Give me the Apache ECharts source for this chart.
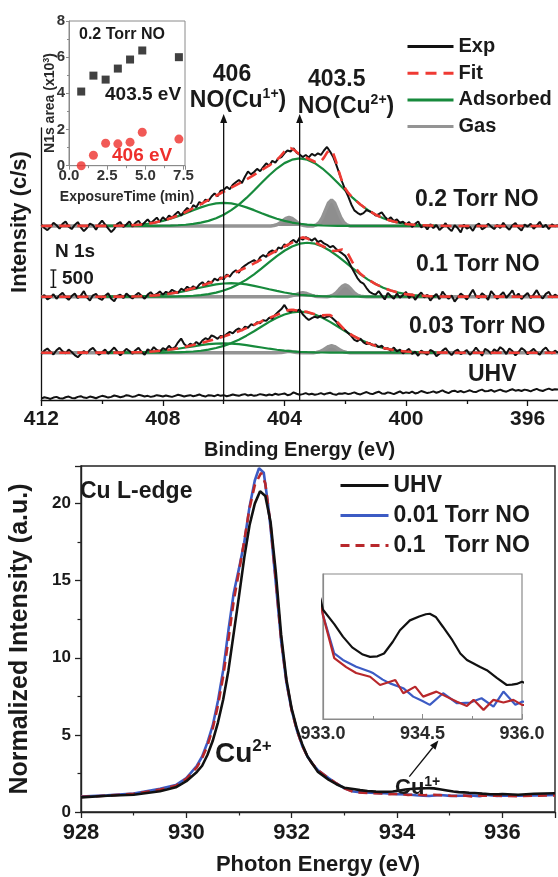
<!DOCTYPE html>
<html>
<head>
<meta charset="utf-8">
<title>N 1s XPS / Cu L-edge</title>
<script src="https://cdn.jsdelivr.net/npm/echarts@6/dist/echarts.min.js"></script>
<style>
html,body{margin:0;padding:0;background:#fff;}
#main{width:558px;height:877px;}
</style>
</head>
<body>
<div id="main"></div>
<script>
/*
* N 1s 谱 + Cu L 边 吸收谱
* */
// ---------- 上图 N 1s (c/s, 相对各自基线) ----------
var expStart = 412, expStep = 0.1, expCount = 171;   // Exp 每 0.1 eV 一个点, 412 -> 395
var compStart = 410, compStep = 0.25, compCount = 45; // 拟合分量 410 -> 399

var exp02 = [40,-60,-120,-30,90,20,-80,60,130,-20,
    -90,30,110,-40,-150,-60,70,20,-110,50,
    150,40,-70,-180,-90,60,110,-30,40,130,
    -20,90,150,20,100,190,80,160,240,120,
    250,170,300,240,330,410,300,420,520,430,
    600,540,690,640,760,720,850,940,860,1020,
    1040,1130,1060,1190,1260,1330,1240,1420,1570,1490,
    1560,1650,1580,1700,1810,1740,1880,1830,1950,1990,
    2100,2180,2150,2245,2120,2060,1990,2050,1980,2080,
    2030,2100,2050,2180,2283,2150,2000,1780,1530,1270,
    1040,850,620,450,380,330,370,460,420,380,
    300,340,390,270,180,250,140,190,90,120,
    40,110,-30,60,130,-40,20,-100,50,-60,
    30,-120,-40,80,-70,-150,20,-60,-190,40,
    -80,-30,-140,10,70,-100,-40,60,-20,-90,
    30,-60,90,-30,-110,20,80,-50,-130,40,
    -20,60,-80,10,120,-40,30,-90,50,-10,20];
var exp01 = [-30,50,-80,-20,70,-60,40,110,-10,-90,
    20,90,-40,30,160,-20,-110,40,80,-50,
    -90,30,100,-60,-130,20,60,-40,90,10,
    -50,40,110,20,-60,60,130,30,80,150,
    60,140,100,200,150,110,230,180,290,220,
    300,240,350,420,330,440,400,520,470,560,
    500,640,580,700,760,690,830,900,960,1010,
    1060,990,1140,1200,1150,1290,1340,1280,1420,1390,
    1510,1470,1580,1640,1560,1700,1650,1720,1680,1620,
    1690,1580,1620,1540,1500,1430,1470,1380,1310,1250,
    1180,1040,860,700,540,430,380,250,140,90,
    60,160,40,-80,110,20,-60,90,-30,50,
    140,-40,70,-90,30,120,-20,60,-110,0,
    80,-70,150,30,-60,40,-140,-30,90,20,
    -80,60,200,20,-40,100,30,-90,160,50,
    -60,40,130,-30,70,180,-10,90,-70,30,
    110,-40,60,190,20,-50,80,140,-20,60,10];
var exp003 = [-40,60,120,30,-50,70,140,40,-20,90,
    20,-70,-130,-40,50,-20,80,140,30,-60,
    10,90,-30,60,150,40,-80,20,110,50,
    -30,70,140,20,-60,100,40,160,80,30,
    130,90,200,110,160,300,410,250,180,260,
    220,310,240,350,420,380,500,460,400,480,
    470,540,600,560,650,700,640,750,720,820,
    790,880,850,940,920,1010,980,1100,1180,1260,
    1380,1230,1180,1240,1200,1250,1110,1020,945,1000,
    1040,1010,1070,1000,1040,1060,980,900,780,720,
    650,560,480,370,330,410,300,250,280,210,
    240,160,200,110,130,60,150,40,90,-20,
    50,110,-40,30,-90,60,0,-60,80,30,
    -100,-30,60,130,20,-70,40,90,-40,10,
    80,-60,20,150,40,-90,110,60,-30,100,
    30,160,90,-40,120,50,-80,20,130,70,
    -50,40,110,10,-60,80,150,30,-20,60,0];
var expUHV = [40,80,60,30,70,90,50,40,80,100,
    60,50,90,110,70,60,100,80,50,90,
    120,100,70,90,130,110,80,100,140,120,
    90,110,150,130,100,120,90,110,140,120,
    100,130,110,90,120,150,130,100,120,140,
    110,130,160,120,100,140,130,110,150,120,
    140,110,130,160,140,120,150,170,130,150,
    120,140,170,150,130,160,140,180,150,170,
    190,140,160,220,180,150,170,200,160,180,
    150,170,200,160,190,210,170,150,190,180,
    200,170,190,220,180,160,200,230,190,170,
    210,240,190,180,220,200,170,210,250,190,
    220,200,240,190,210,260,230,200,220,250,
    210,240,280,230,200,250,270,230,260,220,
    250,280,240,230,270,300,250,260,290,240,
    270,300,260,240,280,310,270,290,260,300,
    280,250,290,320,280,260,300,330,290,310,300];

// 吸附分量 (绿色), 403.5 eV 与 406 eV
var adsA02 = [0,0,0,0,0,1,2,3,6,11,20,35,58,94,147,222,324,456,618,809,1022,1246,1464,1659,1815,1915,1950,1915,1815,1659,1464,1246,1022,809,618,456,324,222,147,94,58,35,20,11,6];
var adsB02 = [2,3,6,12,22,38,63,98,146,209,284,368,456,537,605,650,665,650,605,537,456,368,284,209,146,98,63,38,22,12,6,3,2,0,0,0,0,0,0,0,0,0,0,0,0];
var adsA01 = [0,0,0,0,0,0,0,1,2,5,9,16,28,46,75,118,178,259,365,495,647,817,997,1172,1328,1452,1532,1560,1532,1452,1328,1172,997,817,647,495,365,259,178,118,75,46,28,16,9];
var adsB01 = [0,1,2,4,7,13,22,37,57,86,122,167,216,267,315,355,381,390,381,355,315,267,216,167,122,86,57,37,22,13,7,4,2,1,0,0,0,0,0,0,0,0,0,0,0];
var adsA003 = [0,0,0,0,0,0,1,2,4,7,12,21,35,57,90,135,197,277,376,492,621,757,890,1008,1103,1164,1185,1164,1103,1008,890,757,621,492,376,277,197,135,90,57,35,21,12,7,4];
var adsB003 = [1,1,3,5,9,15,25,40,59,85,115,150,185,218,246,264,270,264,246,218,185,150,115,85,59,40,25,15,9,5,3,1,1,0,0,0,0,0,0,0,0,0,0,0,0];

// 拟合 (红虚线) [eV, c/s]
var fit02 = [[412,0],[410,2],[409.75,3],[409.5,6],[409.25,12],[409,22],[408.75,39],[408.5,65],[408.25,101],[408,152],[407.75,220],[407.5,304],[407.25,403],[407,514],[406.75,631],[406.5,752],[406.25,872],[406,989],[405.75,1106],[405.5,1223],[405.25,1346],[405,1478],[404.75,1614],[404.5,1748],[404.25,1902],[404.1,2044],[404,2150],[403.9,2230],[403.8,2248],[403.7,2207],[403.6,2134],[403.5,2067],[403.4,2016],[403.25,1956],[403,1854],[402.9,1836],[402.8,1869],[402.7,1976],[402.6,2120],[402.5,2197],[402.4,2105],[402.3,1856],[402.2,1544],[402.1,1273],[402,1084],[401.9,952],[401.75,809],[401.5,618],[401.25,456],[401,324],[400.75,222],[400.5,147],[400.25,94],[400,58],[399.75,35],[399.5,20],[399.25,11],[399,6],[398.5,0],[395,0]];
var fit01 = [[412,0],[410,0],[409.75,1],[409.5,2],[409.25,4],[409,7],[408.75,13],[408.5,22],[408.25,38],[408,59],[407.75,91],[407.5,131],[407.25,183],[407,244],[406.75,313],[406.5,390],[406.25,473],[406,559],[405.75,649],[405.5,746],[405.25,850],[405,962],[404.75,1084],[404.5,1213],[404.25,1339],[404,1450],[403.75,1563],[403.6,1645],[403.5,1690],[403.4,1714],[403.25,1684],[403.1,1615],[403,1570],[402.75,1465],[402.5,1350],[402.4,1319],[402.25,1332],[402.2,1343],[402.1,1366],[402,1339],[401.9,1224],[401.8,1059],[401.75,974],[401.6,760],[401.5,662],[401.25,495],[401,365],[400.75,259],[400.5,178],[400.25,118],[400,75],[399.75,46],[399.5,28],[399.25,16],[399,9],[398.5,2],[395,0]];
var fit003 = [[412,0],[410,1],[409.75,1],[409.5,3],[409.25,5],[409,9],[408.75,15],[408.5,26],[408.25,42],[408,63],[407.75,92],[407.5,127],[407.25,171],[407,220],[406.75,275],[406.5,336],[406.25,399],[406,467],[405.75,541],[405.5,622],[405.25,710],[405,806],[404.75,907],[404.5,1005],[404.25,1093],[404,1192],[403.85,1232],[403.75,1239],[403.5,1210],[403.25,1179],[403,1112],[402.75,1078],[402.6,1091],[402.5,1088],[402.4,1033],[402.25,879],[402,637],[401.75,492],[401.5,376],[401.25,277],[401,197],[400.75,135],[400.5,90],[400.25,57],[400,35],[399.75,21],[399.5,12],[399.25,7],[399,4],[398.5,0],[395,0]];

// 气相 NO (灰色)
var gas02 = [[412,0],[404.45,0],[404.35,11],[404.25,34],[404.15,81],[404.05,152],[403.95,220],[403.85,250],[403.75,220],[403.65,152],[403.55,81],[403.45,34],[403.35,11],[403.25,0],[403.05,0],[402.95,33],[402.85,101],[402.75,244],[402.65,455],[402.55,662],[402.45,750],[402.35,662],[402.25,455],[402.15,244],[402.05,101],[401.95,33],[401.85,0],[395,0]];
var gas01 = [[412,0],[403.9,0],[403.8,16],[403.7,37],[403.6,70],[403.5,101],[403.4,115],[403.3,101],[403.2,70],[403.1,37],[403,16],[402.9,5],[402.6,0],[402.5,15],[402.4,46],[402.3,111],[402.2,206],[402.1,299],[402,340],[401.9,299],[401.8,206],[401.7,111],[401.6,46],[401.5,15],[401.4,4],[401.3,0],[395,0]];
var gas003 = [[412,0],[404.3,0],[404.1,8],[403.95,30],[403.85,40],[403.75,30],[403.6,8],[403.4,0],[403.05,0],[402.95,9],[402.85,27],[402.75,65],[402.65,121],[402.55,176],[402.45,200],[402.35,176],[402.25,121],[402.15,65],[402.05,27],[401.95,9],[401.85,0],[395,0]];

// 各谱的基线偏移 (c/s)
var baseOffsets = [5030, 2985, 1367, 0];
var traceNames = ['0.2 Torr NO', '0.1 Torr NO', '0.03 Torr NO', 'UHV'];
var topTicks = [412, 408, 404, 400, 396];
var topMinorTicks = [410, 406, 402, 398];
var peakEnergies = [406, 403.5];
var scaleBarCps = 500;

// 插图: N1s 面积 vs 时间
var exposureTime = [0.8, 1.6, 2.4, 3.2, 4.0, 4.8, 7.2];
var area4035 = [4.1, 4.98, 4.76, 5.37, 5.87, 6.37, 6.0];
var area406 = [0, 0.58, 1.24, 1.21, 1.30, 1.85, 1.47];

// ---------- 下图 Cu L 边 ----------
var uhvE = [928.0,928.5,929.0,929.5,929.8,930.0,930.2,930.3,930.4,930.5,930.6,930.7,930.8,930.9,931.0,931.1,931.2,931.3,931.4,931.5,931.6,931.7,931.8,931.9,932.0,932.1,932.2,932.3,932.4,932.5,932.7,932.85,933.0,933.17,933.3,933.44,933.6,933.71,933.82,933.92,934.05,934.16,934.31,934.45,934.55,934.61,934.7,934.81,934.95,935.07,935.17,935.27,935.37,935.47,935.62,935.77,935.85,935.92,936.0,936.3,936.6,937.0];
var uhvI = [0.95,1.05,1.12,1.35,1.6,2.0,2.6,3.0,3.7,4.6,5.8,7.3,9.2,11.6,14.0,16.5,18.6,20.0,20.8,20.5,18.8,15.5,11.5,8.6,6.7,5.4,4.4,3.6,3.1,2.6,2.1,1.8,1.57,1.49,1.42,1.36,1.32,1.307,1.31,1.326,1.39,1.456,1.511,1.533,1.545,1.548,1.53,1.474,1.40,1.326,1.29,1.27,1.25,1.233,1.19,1.15,1.152,1.156,1.168,1.12,1.18,1.22];
var no001E = [928.0,928.5,929.0,929.5,929.8,930.0,930.2,930.3,930.4,930.5,930.6,930.7,930.8,930.9,931.0,931.1,931.2,931.3,931.38,931.47,931.55,931.6,931.7,931.8,931.9,932.0,932.1,932.2,932.3,932.4,932.5,932.7,932.85,933.0,933.17,933.3,933.5,933.71,933.76,933.9,934.01,934.21,934.36,934.5,934.61,934.81,935.02,935.22,935.39,935.57,935.72,935.9,936.0,936.3,936.6,937.0];
var no001I = [1.0,1.08,1.2,1.5,1.75,2.2,3.0,3.6,4.5,5.6,7.2,9.2,11.8,14.2,15.8,17.5,19.8,21.5,22.3,22.0,20.0,18.4,14.8,11.1,8.4,6.6,5.3,4.3,3.6,3.1,2.7,2.2,1.85,1.54,1.326,1.29,1.252,1.224,1.215,1.18,1.159,1.132,1.085,1.06,1.039,1.104,1.048,1.052,1.076,1.029,1.113,1.039,1.057,1.05,1.08,1.1];
var no01E = [928.0,928.5,929.0,929.5,929.8,930.0,930.2,930.3,930.4,930.5,930.6,930.7,930.8,930.9,931.0,931.1,931.2,931.3,931.42,931.5,931.6,931.7,931.8,931.9,932.0,932.1,932.2,932.3,932.4,932.5,932.7,932.85,933.0,933.17,933.35,933.5,933.71,933.86,934.09,934.21,934.39,934.51,934.71,934.86,935.02,935.17,935.27,935.42,935.57,935.72,935.87,936.0,936.3,936.6,937.0];
var no01I = [0.98,1.06,1.18,1.45,1.7,2.15,2.9,3.5,4.3,5.4,6.9,8.8,11.2,13.7,15.6,17.6,19.7,21.2,22.0,21.3,18.6,15.0,11.2,8.5,6.6,5.3,4.3,3.6,3.1,2.7,2.2,1.85,1.539,1.30,1.25,1.217,1.196,1.15,1.178,1.104,1.141,1.085,1.113,1.085,1.057,1.033,1.067,1.011,1.067,1.052,1.067,1.039,1.03,1.06,1.08];
var cuNames = ['UHV', '0.01 Torr NO', '0.1   Torr NO'];

var FONT = '"Liberation Sans", Arial, Helvetica, sans-serif';
var C_EXP = '#111111', C_FIT = '#ef3a33', C_ADS = '#178a3c', C_GAS = '#949494';
var C_UHV = '#111111', C_BLUE = '#3c5bc4', C_RED = '#b8272b';

function makeGrid(start, step, n) {
    var a = [];
    for (var i = 0; i < n; i++) a.push(+(start - i * step).toFixed(2));
    return a;
}
function zip(xs, ys, off) {
    return xs.map(function (x, i) { return [x, ys[i] + (off || 0)]; });
}
function shift(pairs, off) {
    return pairs.map(function (p) { return [p[0], p[1] + off]; });
}
function lineSeries(name, data, color, width, extra) {
    var s = {
        name: name, type: 'line', data: data, symbol: 'none', smooth: false,
        xAxisIndex: 0, yAxisIndex: 0,
        lineStyle: { color: color, width: width },
        itemStyle: { color: color }
    };
    for (var k in extra) s[k] = extra[k];
    return s;
}

var expEnergy = makeGrid(expStart, expStep, expCount);
var compEnergy = makeGrid(compStart, compStep, compCount);

var traces = [
    { exp: exp02, fit: fit02, a: adsA02, b: adsB02, gas: gas02 },
    { exp: exp01, fit: fit01, a: adsA01, b: adsB01, gas: gas01 },
    { exp: exp003, fit: fit003, a: adsA003, b: adsB003, gas: gas003 }
];

var series = [];
// 上图
traces.forEach(function (t, i) {
    var off = baseOffsets[i];
    series.push(lineSeries('Gas', shift(t.gas, off), C_GAS, 3.5, {
        areaStyle: { color: '#8e8e8e', opacity: 1, origin: off }, z: 1
    }));
});
traces.forEach(function (t, i) {
    var off = baseOffsets[i];
    series.push(lineSeries('Adsorbed', zip(compEnergy, t.a, off), C_ADS, 2.2, { z: 2 }));
    series.push(lineSeries('Adsorbed', zip(compEnergy, t.b, off), C_ADS, 2.2, { z: 2 }));
});
traces.forEach(function (t, i) {
    series.push(lineSeries('Exp', zip(expEnergy, t.exp, baseOffsets[i]), C_EXP, 2, { z: 3 }));
});
series.push(lineSeries('Exp', zip(expEnergy, expUHV, baseOffsets[3]), C_EXP, 2, { z: 3 }));
traces.forEach(function (t, i) {
    var s = lineSeries('Fit', shift(t.fit, baseOffsets[i]), C_FIT, 2.6, { z: 4 });
    s.lineStyle.type = [11, 7];
    series.push(s);
});

// 插图 (上)
series.push({
    name: '403.5 eV', type: 'scatter', xAxisIndex: 2, yAxisIndex: 1,
    data: zip(exposureTime, area4035), symbol: 'rect', symbolSize: 8,
    itemStyle: { color: '#111' }
});
series.push({
    name: '406 eV', type: 'scatter', xAxisIndex: 2, yAxisIndex: 1,
    data: zip(exposureTime, area406), symbol: 'circle', symbolSize: 9,
    itemStyle: { color: '#ee2f2c' }
});

// 下图
var cuData = [zip(no001E, no001I), zip(no01E, no01I), zip(uhvE, uhvI)];
var cuSeriesNames = [cuNames[1], cuNames[2], cuNames[0]];
var cuColors = [C_BLUE, C_RED, C_UHV];
cuData.forEach(function (d, i) {
    var s = lineSeries(cuSeriesNames[i], d, cuColors[i], 2.6, { xAxisIndex: 3, yAxisIndex: 2, z: 2 + i });
    if (i === 1) s.lineStyle.type = [9, 6];
    series.push(s);
});
// 插图 (下), 同一组数据放大
cuData.forEach(function (d, i) {
    series.push(lineSeries(cuSeriesNames[i], d, cuColors[i], 2.2, { xAxisIndex: 4, yAxisIndex: 3, z: 2 + i }));
});

var boldText = function (size, color) {
    return { fontFamily: FONT, fontWeight: 'bold', fontSize: size, color: color || '#1a1a1a' };
};

var option = {
    animation: false,
    backgroundColor: '#ffffff',
    grid: [
        { left: 41.3, right: -2, top: 128, bottom: 477 },
        { left: 69, top: 21, width: 116, height: 144.7, show: true, borderColor: '#8a8a8a', borderWidth: 1 },
        { left: 62, right: 3, top: 466, bottom: 52, show: true, borderColor: '#222', borderWidth: 1.4 },
        { left: 323, top: 574, width: 199, height: 145, show: true, borderColor: '#8a8a8a', borderWidth: 1.2 }
    ],
    legend: [
        {
            data: ['Exp', 'Fit', 'Adsorbed', 'Gas'], orient: 'vertical', left: 406, top: 36.5, padding: 0,
            itemWidth: 46, itemHeight: 14, itemGap: 6.7, selectedMode: false,
            itemStyle: { opacity: 0 }, lineStyle: { width: 3 },
            textStyle: { fontFamily: FONT, fontWeight: 'bold', fontSize: 20, lineHeight: 20, color: '#1a1a1a' }
        },
        {
            data: cuNames, orient: 'vertical', left: 339, top: 474, padding: 0,
            itemWidth: 48, itemHeight: 14, itemGap: 7, selectedMode: false,
            itemStyle: { opacity: 0 }, lineStyle: { width: 3 },
            textStyle: { fontFamily: FONT, fontWeight: 'bold', fontSize: 23, lineHeight: 22, color: '#1a1a1a' }
        }
    ],
    xAxis: [
        {
            gridIndex: 0, type: 'value', min: 395, max: 412, inverse: true,
            name: 'Binding Energy (eV)', nameLocation: 'middle', nameGap: 40,
            nameTextStyle: boldText(20),
            axisLine: { lineStyle: { color: '#111', width: 1.3 } },
            axisTick: { customValues: topTicks, length: 6, lineStyle: { color: '#111', width: 1.3 } },
            axisLabel: { customValues: topTicks, margin: 9, fontFamily: FONT, fontWeight: 'bold', fontSize: 21, color: '#1a1a1a' },
            splitLine: { show: false }
        },
        {
            gridIndex: 0, type: 'value', min: 395, max: 412, inverse: true, position: 'bottom',
            axisLine: { show: false },
            axisTick: { customValues: topMinorTicks, length: 4, lineStyle: { color: '#111', width: 1.3 } },
            axisLabel: { show: false }, splitLine: { show: false }
        },
        {
            gridIndex: 1, type: 'value', min: 0, max: 7.6, interval: 2.5,
            name: 'ExposureTime (min)', nameLocation: 'middle', nameGap: 24,
            nameTextStyle: boldText(14, '#2a2a2a'),
            axisLine: { lineStyle: { color: '#8a8a8a', width: 1 } },
            axisTick: { length: 4, lineStyle: { color: '#8a8a8a' } },
            minorTick: { show: true, splitNumber: 2, length: 2.5, lineStyle: { color: '#8a8a8a' } },
            axisLabel: { margin: 3, showMaxLabel: false, fontFamily: FONT, fontWeight: 'bold', fontSize: 15, color: '#333',
                formatter: function (v) { return v.toFixed(1); } },
            splitLine: { show: false }
        },
        {
            gridIndex: 2, type: 'value', min: 928, max: 937, interval: 2,
            name: 'Photon Energy (eV)', nameLocation: 'middle', nameGap: 42,
            nameTextStyle: boldText(22),
            axisLine: { lineStyle: { color: '#222', width: 1.4 } },
            axisTick: { length: 6, lineStyle: { color: '#222', width: 1.3 } },
            minorTick: { show: true, splitNumber: 2, length: 3.5, lineStyle: { color: '#222', width: 1.2 } },
            axisLabel: { margin: 10, showMaxLabel: false, fontFamily: FONT, fontWeight: 'bold', fontSize: 22, color: '#1a1a1a' },
            splitLine: { show: false }
        },
        {
            gridIndex: 3, type: 'value', min: 933, max: 936, interval: 1.5,
            axisLine: { lineStyle: { color: '#8a8a8a', width: 1.2 } },
            axisTick: { inside: true, length: 5, lineStyle: { color: '#8a8a8a' } },
            minorTick: { show: true, splitNumber: 2, length: 3, lineStyle: { color: '#8a8a8a' } },
            axisLabel: { margin: 6, fontFamily: FONT, fontWeight: 'bold', fontSize: 18, color: '#2a2a2a',
                formatter: function (v) { return v.toFixed(1); } },
            splitLine: { show: false }
        }
    ],
    yAxis: [
        {
            gridIndex: 0, type: 'value', min: 0, max: 7860,
            axisLine: { show: true, lineStyle: { color: '#111', width: 1.3 } },
            axisTick: { show: false }, axisLabel: { show: false }, splitLine: { show: false }
        },
        {
            gridIndex: 1, type: 'value', min: 0, max: 8, interval: 2,
            axisLine: { show: true, lineStyle: { color: '#8a8a8a', width: 1 } },
            axisTick: { show: true, length: 3, lineStyle: { color: '#8a8a8a' } },
            minorTick: { show: true, splitNumber: 2, length: 2, lineStyle: { color: '#8a8a8a' } },
            axisLabel: { margin: 4, fontFamily: FONT, fontWeight: 'bold', fontSize: 15, color: '#333' },
            splitLine: { show: false }
        },
        {
            gridIndex: 2, type: 'value', min: 0, max: 22.44, interval: 5,
            name: 'Normalized Intensity (a.u.)', nameLocation: 'middle', nameGap: 48,
            nameTextStyle: boldText(25),
            axisLine: { show: true, lineStyle: { color: '#222', width: 1.4 } },
            axisTick: { show: true, length: 6, lineStyle: { color: '#222', width: 1.3 } },
            minorTick: { show: true, splitNumber: 2, length: 3.5, lineStyle: { color: '#222', width: 1.2 } },
            axisLabel: { margin: 10, showMaxLabel: false, fontFamily: FONT, fontWeight: 'bold', fontSize: 17, color: '#1a1a1a' },
            splitLine: { show: false }
        },
        {
            gridIndex: 3, type: 'value', min: 0.96, max: 1.77,
            axisLine: { show: true, lineStyle: { color: '#8a8a8a', width: 1.2 } },
            axisTick: { show: false }, axisLabel: { show: false }, splitLine: { show: false }
        }
    ],
    series: series
};

var chart = echarts.init(document.getElementById('main'), null, { renderer: 'canvas' });
chart.setOption(option);

// ---------- 文字与箭头 ----------
function txt(x, y, text, size, color, align) {
    return { type: 'text', x: x, y: y, z: 50,
        style: { text: text, fill: color || '#1a1a1a', font: 'bold ' + size + 'px ' + FONT,
            align: align || 'left', verticalAlign: 'middle' } };
}
function supText(x, y, base, sup, size, supSize, align, tail) {
    return { type: 'text', x: x, y: y, z: 50,
        style: {
            text: '{a|' + base + '}{s|' + sup + '}' + (tail ? '{a|' + tail + '}' : ''),
            align: align || 'left', verticalAlign: 'middle',
            rich: {
                a: { fontFamily: FONT, fontWeight: 'bold', fontSize: size, lineHeight: size + 4, fill: '#1a1a1a' },
                s: { fontFamily: FONT, fontWeight: 'bold', fontSize: supSize, lineHeight: supSize, verticalAlign: 'top', fill: '#1a1a1a' }
            }
        } };
}
function arrow(x1, y1, x2, y2) {
    var ang = Math.atan2(y2 - y1, x2 - x1), L = 9, W = 3.5;
    var bx = x2 - L * Math.cos(ang), by = y2 - L * Math.sin(ang);
    var px = -Math.sin(ang) * W, py = Math.cos(ang) * W;
    return [
        { type: 'line', z: 40, shape: { x1: x1, y1: y1, x2: bx, y2: by }, style: { stroke: '#111', lineWidth: 1.3 } },
        { type: 'polygon', z: 40, shape: { points: [[x2, y2], [bx + px, by + py], [bx - px, by - py]] }, style: { fill: '#111' } }
    ];
}

var g = [];
// 上图文字
var labelY = [200, 265, 326.7, 375];
var labelX = [415, 416, 409, 468];
traceNames.forEach(function (n, i) { g.push(txt(labelX[i], labelY[i], n, 23)); });
g.push({ type: 'text', x: 20, y: 222, rotation: Math.PI / 2, z: 50,
    style: { text: 'Intensity (c/s)', font: 'bold 22px ' + FONT, fill: '#1a1a1a', align: 'center', verticalAlign: 'middle' } });
g.push(txt(55, 251.7, 'N 1s', 19));
// 标尺 500 c/s
var p0 = chart.convertToPixel({ gridIndex: 0 }, [412, 0]);
var p1 = chart.convertToPixel({ gridIndex: 0 }, [412, scaleBarCps]);
var barH = p0[1] - p1[1], barBottom = 287.3, barX = 53.4;
g.push({ type: 'polyline', z: 40, shape: { points: [[barX, barBottom], [barX, barBottom - barH]] }, style: { stroke: '#111', lineWidth: 1.5 } });
g.push({ type: 'line', z: 40, shape: { x1: barX - 3, y1: barBottom, x2: barX + 3, y2: barBottom }, style: { stroke: '#111', lineWidth: 1.3 } });
g.push({ type: 'line', z: 40, shape: { x1: barX - 3, y1: barBottom - barH, x2: barX + 3, y2: barBottom - barH }, style: { stroke: '#111', lineWidth: 1.3 } });
g.push(txt(62, 278.7, String(scaleBarCps), 19));

// 峰位箭头
var peakTextX = [[232, 238], [336.7, 346]];
var peakTextY = [[75, 101], [80, 106.5]];
var peakSup = ['1+', '2+'];
peakEnergies.forEach(function (e, i) {
    var px = chart.convertToPixel({ gridIndex: 0 }, [e, 0]);
    g = g.concat(arrow(px[0], px[1], px[0], 114));
    g.push(txt(peakTextX[i][0], peakTextY[i][0], String(e), 23, '#1a1a1a', 'center'));
    g.push(supText(peakTextX[i][1], peakTextY[i][1], 'NO(Cu', peakSup[i], 23, 14, 'center', ')'));
});

// 插图 (上) 文字
g.push(txt(79, 35, '0.2 Torr NO', 16));
g.push(txt(105, 95, '403.5 eV', 19));
g.push(txt(112, 155.7, '406 eV', 19, '#ee2f2c'));
g.push({ type: 'text', x: 50, y: 103, rotation: Math.PI / 2, z: 50,
    style: { text: '{a|N1s area (x10}{s|3}{a|)}', align: 'center', verticalAlign: 'middle',
        rich: {
            a: { fontFamily: FONT, fontWeight: 'bold', fontSize: 14, lineHeight: 16, fill: '#2a2a2a' },
            s: { fontFamily: FONT, fontWeight: 'bold', fontSize: 9, lineHeight: 9, verticalAlign: 'top', fill: '#2a2a2a' }
        } } });

// 下图文字
g.push(txt(80, 492, 'Cu L-edge', 23));
g.push(supText(215, 754, 'Cu', '2+', 28, 17, 'left'));
g.push(supText(395, 788, 'Cu', '1+', 22, 14, 'left'));
g = g.concat(arrow(409.3, 776.7, 438.4, 740.5));

chart.setOption({ graphic: g });
</script>
</body>
</html>
